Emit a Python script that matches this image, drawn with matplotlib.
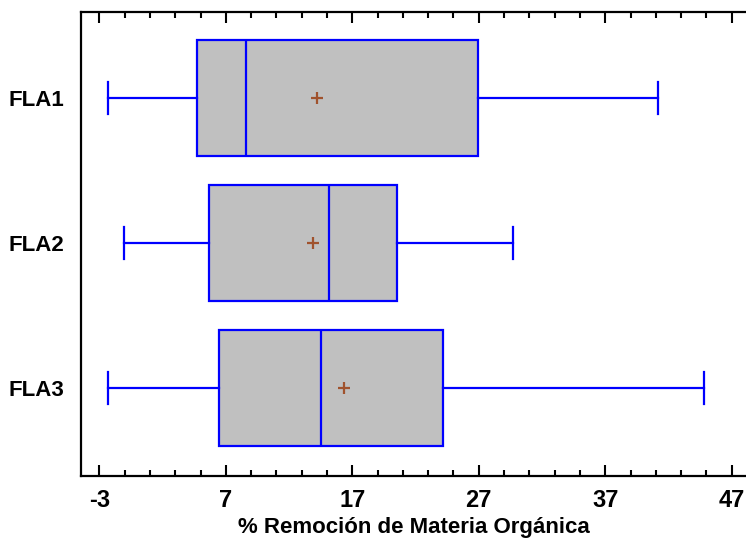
import matplotlib.pyplot as plt
from matplotlib.ticker import MultipleLocator

plt.rcParams['font.family'] = ['Liberation Sans', 'DejaVu Sans']

# Datos
grupos = ['FLA1', 'FLA2', 'FLA3']
minimos = [-2.3, -1.05, -2.3]
q1 = [4.75, 5.67, 6.44]
medianas = [8.57, 15.16, 14.55]
q3 = [26.96, 20.51, 24.19]
maximos = [41.17, 29.7, 44.8]
medias = [14.23, 13.92, 16.37]
ticks_x = [-3, 7, 17, 27, 37, 47]

stats = []
for i in range(len(grupos)):
    stats.append({'label': grupos[i], 'whislo': minimos[i], 'q1': q1[i], 'med': medianas[i],
                  'q3': q3[i], 'whishi': maximos[i], 'mean': medias[i], 'fliers': []})

fig = plt.figure(figsize=(7.46, 5.41), dpi=100)
ax = fig.add_axes([0.1086, 0.120, 0.8914, 0.858])

azul = '#0000ff'
ax.bxp(stats, positions=[1, 2, 3], orientation='horizontal', widths=0.8, patch_artist=True,
       showmeans=True, shownotches=False,
       boxprops=dict(facecolor='#c0c0c0', edgecolor=azul, linewidth=1.6),
       medianprops=dict(color=azul, linewidth=1.6),
       whiskerprops=dict(color=azul, linewidth=1.6),
       capprops=dict(color=azul, linewidth=1.6),
       capwidths=0.22,
       meanprops=dict(marker='+', markeredgecolor='#a0522d', markersize=8, markeredgewidth=1.6))

ax.set_xlim(-4.45, 48.13)
ax.set_ylim(3.607, 0.407)
ax.set_xticks(ticks_x)
ax.set_xticklabels([str(t) for t in ticks_x])
ax.xaxis.set_minor_locator(MultipleLocator(2, offset=1))
ax.set_yticks([1, 2, 3])
ax.set_yticklabels(grupos)

ax.tick_params(axis='x', which='both', direction='in', top=True, bottom=True, width=1.5,
               labelsize=17, pad=9)
ax.tick_params(axis='x', which='major', length=8)
ax.tick_params(axis='x', which='minor', length=4)
ax.tick_params(axis='y', which='both', length=0, labelsize=16, pad=12)
for lab in ax.get_xticklabels() + ax.get_yticklabels():
    lab.set_fontweight('bold')

for s in ['left', 'bottom', 'top']:
    ax.spines[s].set_linewidth(1.6)
ax.spines['right'].set_visible(False)

ax.set_xlabel('% Remoción de Materia Orgánica', fontsize=16, fontweight='bold', labelpad=4)

fig.savefig('out.png', dpi=100)
